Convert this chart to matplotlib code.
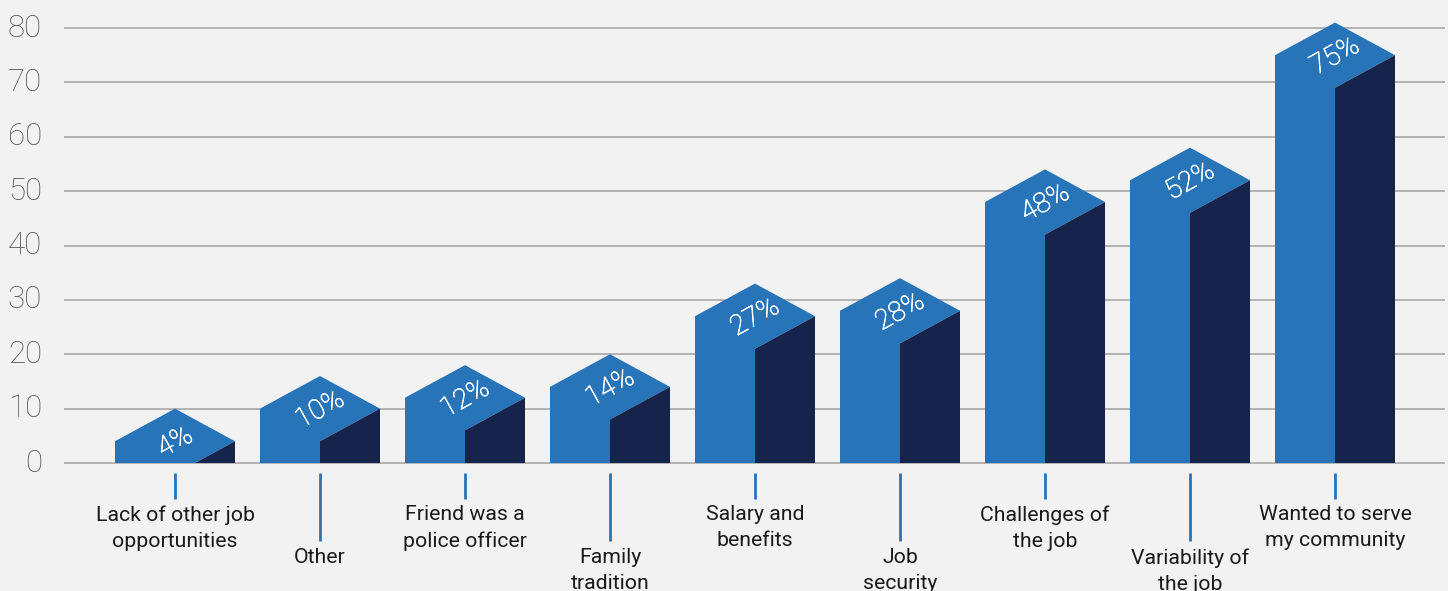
import matplotlib.pyplot as plt
import matplotlib.patheffects as pe
from matplotlib.patches import Polygon, Rectangle

plt.rcParams['font.family'] = ['Roboto', 'DejaVu Sans']

reasons = ['Lack of other job\nopportunities', 'Other', 'Friend was a\npolice officer',
           'Family\ntradition', 'Salary and\nbenefits', 'Job\nsecurity',
           'Challenges of\nthe job', 'Variability of\nthe job', 'Wanted to serve\nmy community']
shares = [4, 10, 12, 14, 27, 28, 48, 52, 75]
share_labels = ['4%', '10%', '12%', '14%', '27%', '28%', '48%', '52%', '75%']
yticks = [0, 10, 20, 30, 40, 50, 60, 70, 80]

front = '#2874b9'
side = '#16244b'
bg = '#f2f2f2'

fig = plt.figure(figsize=(14.48, 5.91), dpi=100, facecolor=bg)
ax = fig.add_axes([0, 0, 1, 1])
ax.set_facecolor(bg)
ax.set_xlim(-1.2069, 8.7793)
ax.set_ylim(-23.54, 85.15)
ax.axis('off')

# horizontal grid
ax.hlines(yticks, -0.7655, 8.7586, color='#a8a8a8', lw=1.2, zorder=1)
for t in yticks:
    ax.text(-0.917, t, str(t), ha='right', va='center', fontsize=22.5,
            fontweight='light', color='#555555')

h = 0.4138   # half width of a bar
d = 6.0      # roof rise
clip = Rectangle((-2, 0), 12, 100, transform=ax.transData)
thicken = [pe.withStroke(linewidth=0.5, foreground='white')]

for i, v in enumerate(shares):
    body = Polygon([(i - h, 0), (i - h, v), (i, v + d), (i + h, v), (i, v - d), (i, 0)],
                   closed=True, facecolor=front, edgecolor='none', zorder=2)
    shade = Polygon([(i, 0), (i, v - d), (i + h, v), (i + h, 0)],
                    closed=True, facecolor=side, edgecolor='none', zorder=3)
    for p in (body, shade):
        ax.add_patch(p)
        p.set_clip_path(clip)
    ax.text(i, v - 0.2, share_labels[i], ha='center', va='center', rotation=29,
            rotation_mode='anchor', fontsize=20, fontweight='light', color='white',
            path_effects=thicken, zorder=4)

    # staggered category labels
    if i % 2 == 0:
        ax.vlines(i, -1.84, -6.6, color=front, lw=2)
        ax.text(i, -7.8, reasons[i], ha='center', va='top', fontsize=15.3,
                color='#1a1a1a', linespacing=1.46)
    else:
        ax.vlines(i, -1.84, -14.3, color=front, lw=2)
        ax.text(i, -15.7, reasons[i], ha='center', va='top', fontsize=15.3,
                color='#1a1a1a', linespacing=1.46)

fig.savefig('out.png', dpi=100, facecolor=bg)
